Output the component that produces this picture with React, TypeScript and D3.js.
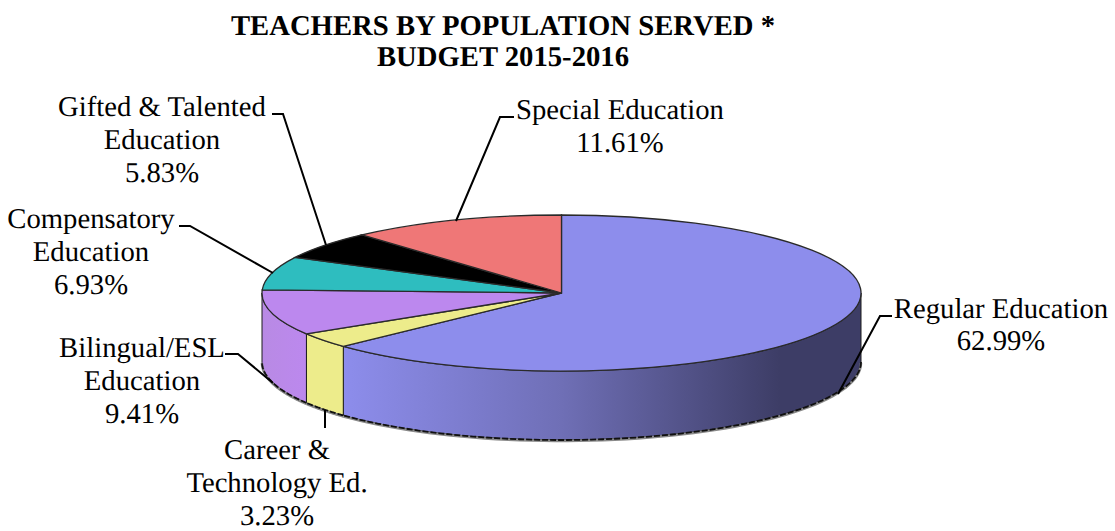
import React from "react";
import * as d3 from "d3";

const titleLines = ["TEACHERS BY POPULATION SERVED *", "BUDGET 2015-2016"];
const categories = ["Regular Education", "Career & Technology Ed.", "Bilingual/ESL Education", "Compensatory Education", "Gifted & Talented Education", "Special Education"];
const values = [62.99, 3.23, 9.41, 6.93, 5.83, 11.61];
const colors = ["#8D8DEC", "#EDEC8B", "#BC88EE", "#2EBDBF", "#000000", "#EF7777"];
const labelLines = [
  ["Regular Education", "62.99%"],
  ["Career &", "Technology Ed.", "3.23%"],
  ["Bilingual/ESL", "Education", "9.41%"],
  ["Compensatory", "Education", "6.93%"],
  ["Gifted & Talented", "Education", "5.83%"],
  ["Special Education", "11.61%"],
];
const labelAnchors = [
  [1001, 317.5],
  [277, 459],
  [142, 357],
  [91, 228],
  [162, 116],
  [620, 119],
];
const leaders = [
  [[838, 394], [880, 316], [892, 316]],
  [[325, 410], [325, 428]],
  [[273, 383], [238, 354], [225, 354]],
  [[273, 273], [190, 226], [179, 226]],
  [[326, 245], [283, 114], [272, 114]],
  [[456, 221], [500, 117], [514, 117]],
];

const cx = 561.5, cy = 293, rx = 299.5, ry = 78, depth = 69;
const LINE = 32.8;

const pieGen = d3.pie<number>().sort(null).value((d) => d);
const arcs = pieGen(values);
const arcGen = d3.arc<d3.PieArcDatum<number>>().innerRadius(0).outerRadius(rx);

const px = (a: number) => rx * Math.sin(a);
const py = (a: number) => -ry * Math.cos(a);

function sampled(a0: number, a1: number): number[] | null {
  const s = Math.max(a0, Math.PI / 2), e = Math.min(a1, (3 * Math.PI) / 2);
  if (e <= s) return null;
  return d3.range(0, 61).map((i) => s + ((e - s) * i) / 60);
}

function wallPath(a0: number, a1: number): string | null {
  const angles = sampled(a0, a1);
  if (!angles) return null;
  const top = angles.map((a) => [px(a), py(a)] as [number, number]);
  const bottom = angles.slice().reverse().map((a) => [px(a), py(a) + depth] as [number, number]);
  return d3.line()([...top, ...bottom]) + "Z";
}

function bottomEdge(a0: number, a1: number): string | null {
  const angles = sampled(a0, a1);
  if (!angles) return null;
  return d3.line()(angles.map((a) => [px(a), py(a) + depth] as [number, number]));
}

const wallFill = ["url(#wallBlue)", colors[1], "url(#wallPurple)", colors[3], colors[4], colors[5]];

export default function App() {
  return (
    <svg width={1115} height={531} style={{ position: "absolute", left: 0, top: 0, display: "block", background: "#fff" }}>
      <defs>
        <linearGradient id="wallBlue" gradientUnits="userSpaceOnUse" x1={343 - cx} x2={780 - cx} y1={0} y2={0}>
          <stop offset="0" stopColor="#8D8DEC" />
          <stop offset="0.5" stopColor="#6F6FB6" />
          <stop offset="1" stopColor="#3D3D66" />
        </linearGradient>
        <linearGradient id="wallPurple" gradientUnits="userSpaceOnUse" x1={262 - cx} x2={306 - cx} y1={0} y2={0}>
          <stop offset="0" stopColor="#B88AE4" />
          <stop offset="1" stopColor="#BC88EE" />
        </linearGradient>
      </defs>
      <g fontFamily="'Liberation Serif', 'Times New Roman', serif" fill="#000" textRendering="geometricPrecision">
        {titleLines.map((t, i) => (
          <text key={t} x={503} y={35 + i * 31} textAnchor="middle" fontWeight="bold" fontSize={28.7}>{t}</text>
        ))}
        <g transform={`translate(${cx},${cy})`}>
          {arcs.map((a, i) => {
            const w = wallPath(a.startAngle, a.endAngle);
            const b = bottomEdge(a.startAngle, a.endAngle);
            return w ? (
              <g key={categories[i]}>
                <path d={w} fill={wallFill[i]} stroke="#1c1c1c" strokeWidth={1} />
                <path d={b as string} fill="none" stroke="#8a8a8a" strokeWidth={2.5} transform="translate(0,1)" />
                <path d={b as string} fill="none" stroke="#111" strokeWidth={1.8} strokeDasharray="6 2" />
              </g>
            ) : null;
          })}
          <g transform={`scale(1,${ry / rx})`}>
            {arcs.map((a, i) => (
              <path key={categories[i]} d={arcGen(a) as string} fill={colors[i]} stroke="#2a2a2a" strokeWidth={1.3} vectorEffect="non-scaling-stroke" />
            ))}
          </g>
        </g>
        {leaders.map((l, i) => (
          <path key={i} d={d3.line()(l as [number, number][]) as string} fill="none" stroke="#000" strokeWidth={2} />
        ))}
        {labelLines.map((lines, i) =>
          lines.map((t, j) => (
            <text key={t} x={labelAnchors[i][0]} y={labelAnchors[i][1] + j * LINE} textAnchor="middle" fontSize={28.7}>{t}</text>
          ))
        )}
      </g>
    </svg>
  );
}
